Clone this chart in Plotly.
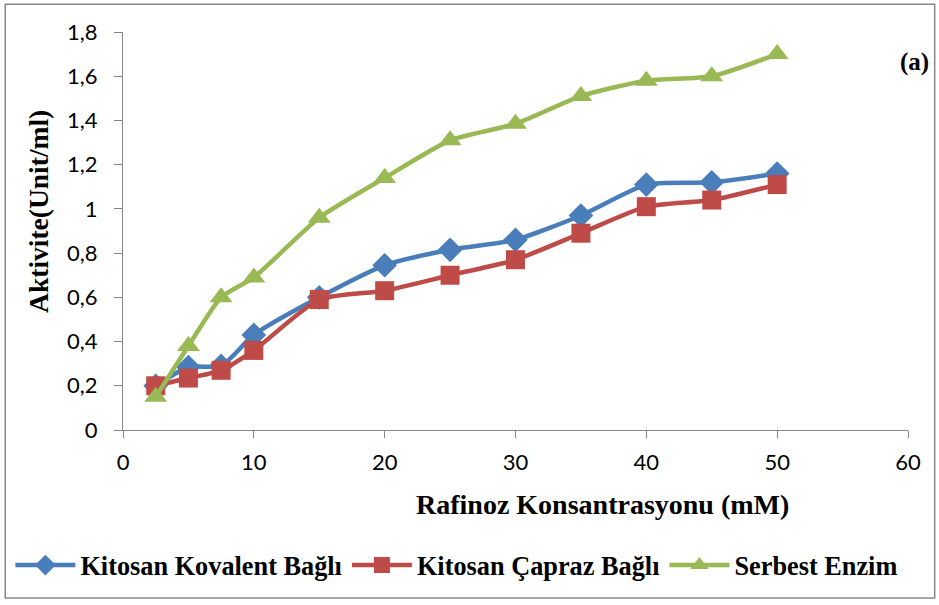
import plotly.graph_objects as go

x_vals = [2.5, 5, 7.5, 10, 15, 20, 25, 30, 35, 40, 45, 50]
kovalent = [0.20, 0.285, 0.29, 0.43, 0.60, 0.745, 0.815, 0.86, 0.97, 1.11, 1.12, 1.16]
capraz = [0.20, 0.235, 0.27, 0.36, 0.59, 0.63, 0.70, 0.77, 0.89, 1.01, 1.04, 1.11]
serbest = [0.15, 0.38, 0.60, 0.69, 0.96, 1.14, 1.31, 1.385, 1.51, 1.58, 1.60, 1.70]

names = ["Kitosan Kovalent Bağlı", "Kitosan Çapraz Bağlı", "Serbest Enzim"]
colors = ["#4A7EBB", "#BE4B48", "#98B954"]
symbols = ["diamond", "square", "triangle-up"]
sizes = [19, 19, 20]

y_ticks = [0, 0.2, 0.4, 0.6, 0.8, 1.0, 1.2, 1.4, 1.6, 1.8]
y_ticktext = ["0", "0,2", "0,4", "0,6", "0,8", "1", "1,2", "1,4", "1,6", "1,8"]
x_ticks = [0, 10, 20, 30, 40, 50, 60]

fig = go.Figure()
for name, ys, c, s, sz in zip(names, [kovalent, capraz, serbest], colors, symbols, sizes):
    fig.add_trace(go.Scatter(
        x=x_vals, y=ys, name=name, mode="lines+markers",
        line=dict(color=c, width=4.5, shape="spline", smoothing=0.6),
        marker=dict(symbol=s, size=sz, color=c),
    ))

serif = "Liberation Serif"
tickfont = dict(family="Lato", size=22, color="black")
fig.update_layout(
    width=939, height=605,
    margin=dict(l=122, r=31, t=32, b=175),
    paper_bgcolor="white", plot_bgcolor="white",
    showlegend=True,
    legend=dict(orientation="h", x=-0.142, y=-0.28, xanchor="left", yanchor="top",
                font=dict(family=serif, size=26.3, color="black", weight="bold"),
                itemwidth=60, tracegroupgap=0),
    xaxis=dict(range=[0, 60], tickvals=x_ticks, showline=True, linecolor="#868686",
               linewidth=1, ticks="outside", ticklen=7, tickcolor="#868686",
               showgrid=False, zeroline=False, tickfont=tickfont, ticklabelstandoff=6),
    yaxis=dict(range=[0, 1.8], tickvals=y_ticks, ticktext=y_ticktext, showline=True,
               linecolor="#868686", linewidth=1, ticks="outside", ticklen=8,
               tickcolor="#868686", showgrid=False, zeroline=False, tickfont=tickfont,
               ticklabelstandoff=12),
    annotations=[
        dict(text="(a)", xref="paper", yref="paper", x=1.008, y=0.925,
             xanchor="center", yanchor="middle", showarrow=False,
             font=dict(family=serif, size=25, color="black", weight="bold")),
        dict(text="Rafinoz Konsantrasyonu (mM)", xref="paper", yref="paper",
             x=0.611, y=-0.188, xanchor="center", yanchor="middle", showarrow=False,
             font=dict(family=serif, size=28, color="black", weight="bold")),
        dict(text="Aktivite(Unit/ml)", xref="paper", yref="paper", textangle=-90,
             x=-0.107, y=0.548, xanchor="center", yanchor="middle", showarrow=False,
             font=dict(family=serif, size=27.5, color="black", weight="bold")),
    ],
    shapes=[dict(type="rect", xref="paper", yref="paper", x0=-0.150, x1=1.034,
                 y0=-0.422, y1=1.070, line=dict(color="#888888", width=1.5))],
)

fig.write_html("out.html", config={"displayModeBar": False},
               post_script="document.body.style.margin='0';document.body.style.overflow='hidden';")
